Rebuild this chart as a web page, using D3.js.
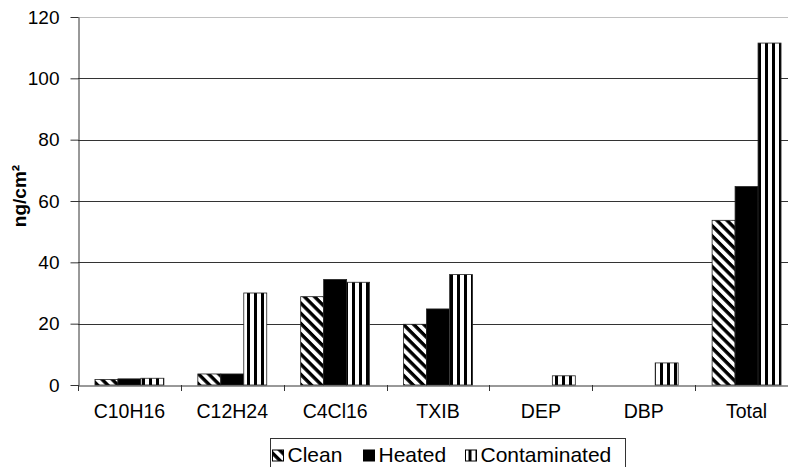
<!DOCTYPE html>
<html>
<head>
<meta charset="utf-8">
<script src="https://cdn.jsdelivr.net/npm/d3@7"></script>
<style>
  body { margin: 0; background: #fff; }
  text { font-family: "Liberation Sans", Arial, sans-serif; }
</style>
</head>
<body>
<div id="chart"></div>
<script>
// chart data
const categories = ["C10H16", "C12H24", "C4Cl16", "TXIB", "DEP", "DBP", "Total"];
const seriesNames = ["Clean", "Heated", "Contaminated"];
const clean = [1.8, 3.6, 28.8, 19.8, 0, 0, 53.7];
const heated = [2.0, 3.6, 34.4, 24.8, 0, 0, 64.7];
const contaminated = [2.2, 30.0, 33.5, 36.0, 3.0, 7.2, 111.5];
const yTicks = [0, 20, 40, 60, 80, 100, 120];

const width = 788;
const height = 467;
const margin = {left: 78, right: -10, top: 17, bottom: 82};

const svg = d3.select("#chart")
  .append("svg")
  .attr("width", width)
  .attr("height", height);

// patterns
const defs = svg.append("defs");
const diag = defs.append("pattern")
  .attr("id", "pat-clean")
  .attr("patternUnits", "userSpaceOnUse")
  .attr("width", 7.2).attr("height", 7.2)
  .attr("patternTransform", "rotate(45)");
diag.append("rect").attr("width", 7.2).attr("height", 7.2).attr("fill", "#fff");
diag.append("rect").attr("width", 7.2).attr("height", 3.4).attr("fill", "#000");

const vert = defs.append("pattern")
  .attr("id", "pat-cont")
  .attr("patternUnits", "userSpaceOnUse")
  .attr("width", 7).attr("height", 10);
vert.append("rect").attr("width", 7).attr("height", 10).attr("fill", "#fff");
vert.append("rect").attr("x", 2).attr("width", 3).attr("height", 10).attr("fill", "#000");

const fills = ["url(#pat-clean)", "#000", "url(#pat-cont)"];

// scales
const x = d3.scaleBand()
  .domain(categories)
  .range([margin.left, width - margin.right]);

const y = d3.scaleLinear()
  .domain([0, 120])
  .range([height - margin.bottom, margin.top]);

const xSub = d3.scaleBand()
  .domain(seriesNames)
  .range([0, x.bandwidth() * 0.67])
  .padding(0);

// gridlines
svg.append("g")
  .selectAll("line")
  .data(yTicks.slice(1))
  .enter()
  .append("line")
  .attr("x1", margin.left)
  .attr("x2", width - margin.right)
  .attr("y1", d => Math.round(y(d)) + 0.5)
  .attr("y2", d => Math.round(y(d)) + 0.5)
  .attr("stroke", d => d === 120 ? "#c0c0c0" : "#333")
  .attr("stroke-width", 1);

// bars
const series = [clean, heated, contaminated];
const groupOffset = (x.bandwidth() - x.bandwidth() * 0.67) / 2;
series.forEach((vals, si) => {
  svg.append("g")
    .selectAll("rect")
    .data(vals.map((v, i) => ({cat: categories[i], v: v})).filter(d => d.v > 0))
    .enter()
    .append("rect")
    .attr("x", d => x(d.cat) + groupOffset + xSub(seriesNames[si]))
    .attr("y", d => y(d.v))
    .attr("width", xSub.bandwidth())
    .attr("height", d => y(0) - y(d.v))
    .attr("fill", fills[si])
    .attr("stroke", "#222")
    .attr("stroke-width", 0.8);
});

// y axis
const yAxis = svg.append("g")
  .attr("transform", `translate(${margin.left + 0.5},0)`)
  .call(d3.axisLeft(y).tickValues(yTicks).tickSize(8).tickSizeOuter(0).tickPadding(11));
yAxis.select(".domain").attr("stroke", "#333");
yAxis.selectAll(".tick line").attr("stroke", "#333");
yAxis.selectAll("text").attr("font-size", "19px").attr("fill", "#000")
  .attr("font-family", "Liberation Sans, Arial, sans-serif");

// x axis
const xAxis = svg.append("g")
  .attr("transform", `translate(0,${y(0) + 0.5})`)
  .call(d3.axisBottom(x).tickSize(0).tickPadding(19));
xAxis.select(".domain").attr("stroke", "#333");
xAxis.selectAll("text").attr("font-size", "19.5px").attr("fill", "#000")
  .attr("font-family", "Liberation Sans, Arial, sans-serif");

// x category separators
svg.append("g")
  .selectAll("line")
  .data(categories)
  .enter()
  .append("line")
  .attr("x1", d => Math.round(x(d)) + 0.5)
  .attr("x2", d => Math.round(x(d)) + 0.5)
  .attr("y1", y(0))
  .attr("y2", y(0) + 6)
  .attr("stroke", "#333");

// y label
svg.append("text")
  .attr("transform", `translate(26,196) rotate(-90)`)
  .attr("text-anchor", "middle")
  .attr("font-size", "19px")
  .attr("font-weight", "bold")
  .text("ng/cm²");

// legend
const legend = svg.append("g").attr("transform", "translate(270.5,438.5)");
legend.append("rect")
  .attr("width", 355).attr("height", 34)
  .attr("fill", "#fff").attr("stroke", "#333");
const legItems = [
  {name: "Clean", x: 2},
  {name: "Heated", x: 93},
  {name: "Contaminated", x: 195}
];
legItems.forEach((d, i) => {
  legend.append("rect")
    .attr("x", d.x).attr("y", 11.5)
    .attr("width", 11).attr("height", 11)
    .attr("fill", fills[i]).attr("stroke", "#000");
  legend.append("text")
    .attr("x", d.x + 15).attr("y", 23)
    .attr("font-size", "21px")
    .text(d.name);
});
</script>
</body>
</html>
